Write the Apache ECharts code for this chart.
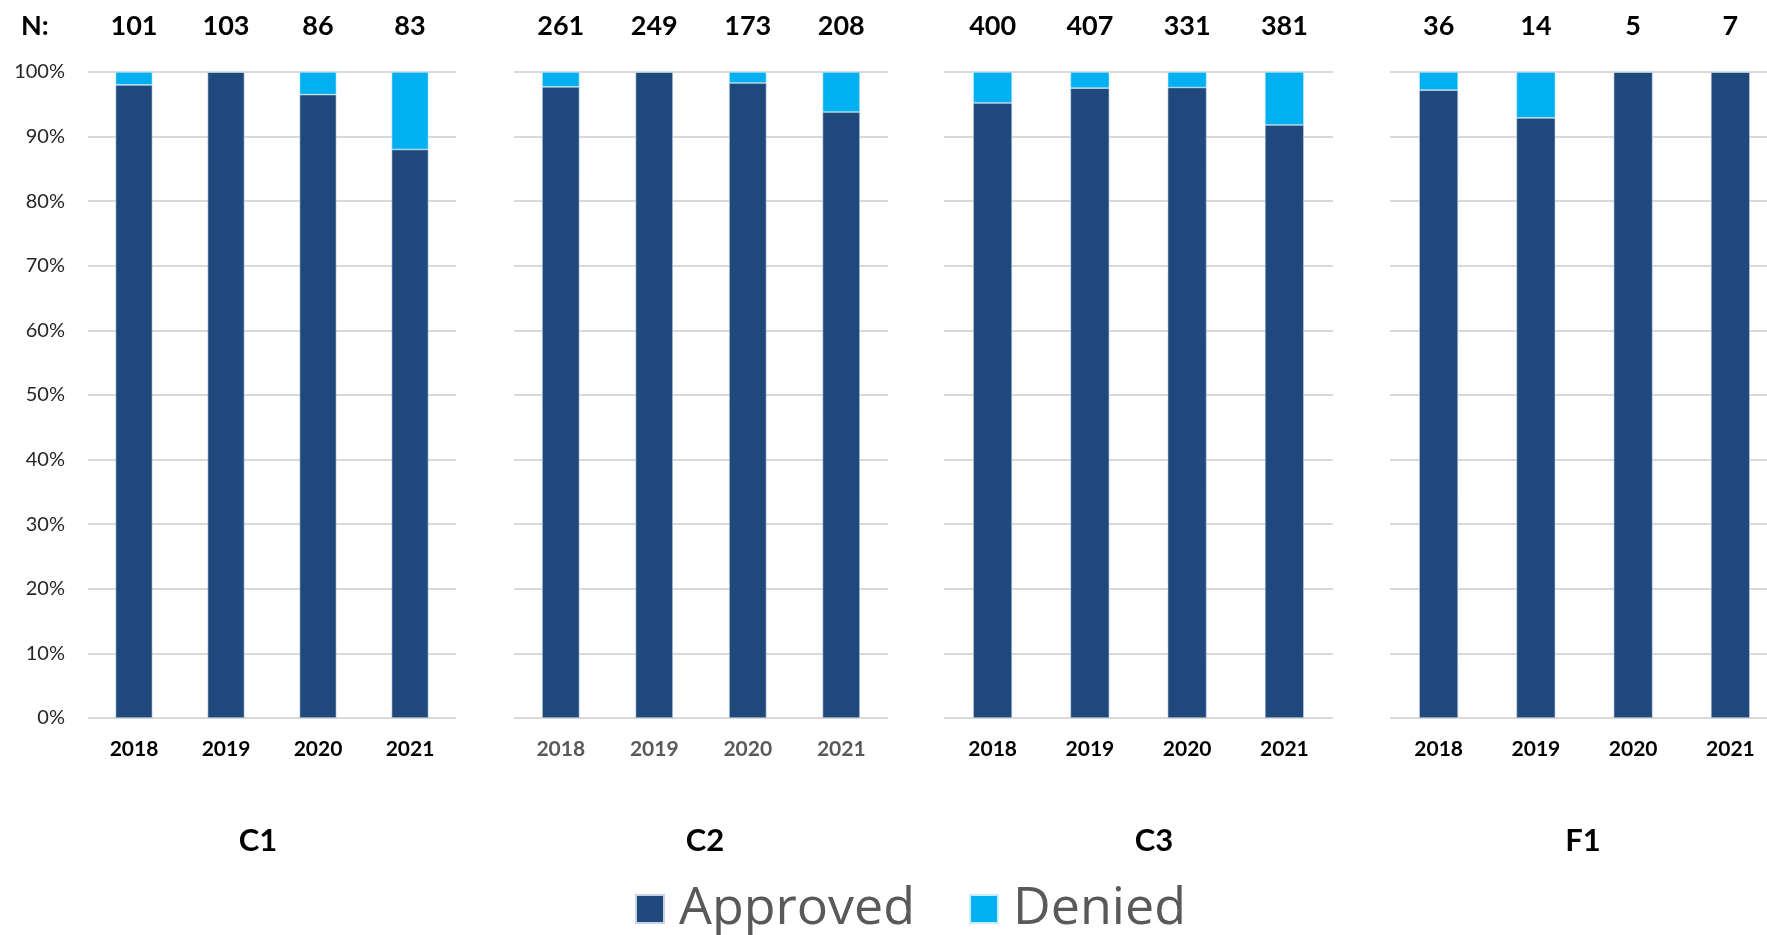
<!DOCTYPE html>
<html>
<head>
<meta charset="utf-8">
<script src="https://cdn.jsdelivr.net/npm/echarts@6/dist/echarts.min.js"></script>
<style>
  html, body { margin: 0; padding: 0; background: #fff; overflow: hidden; }
  /* the drawing surface is a little wider than the window so the last panel runs off the edge */
  #chart { width: 1790px; height: 935px; }
</style>
</head>
<body>
<div id="chart"></div>
<script>
// Share of approved / denied applications per program and year (percent)
const years = ['2018', '2019', '2020', '2021'];
const programs = ['C1', 'C2', 'C3', 'F1'];

// Number of applications per year, shown above each bar
const countsC1 = [101, 103, 86, 83];
const countsC2 = [261, 249, 173, 208];
const countsC3 = [400, 407, 331, 381];
const countsF1 = [36, 14, 5, 7];

const approvedC1 = [98.0, 100, 96.5, 88.0];
const deniedC1   = [2.0, 0, 3.5, 12.0];
const approvedC2 = [97.7, 100, 98.3, 93.8];
const deniedC2   = [2.3, 0, 1.7, 6.2];
const approvedC3 = [95.2, 97.5, 97.6, 91.8];
const deniedC3   = [4.8, 2.5, 2.4, 8.2];
const approvedF1 = [97.2, 92.9, 100, 100];
const deniedF1   = [2.8, 7.1, 0, 0];

const yTicks = [0, 10, 20, 30, 40, 50, 60, 70, 80, 90, 100];

const counts = [countsC1, countsC2, countsC3, countsF1];
const approved = [approvedC1, approvedC2, approvedC3, approvedF1];
const denied = [deniedC1, deniedC2, deniedC3, deniedF1];

const COLOR_APPROVED = '#1f497d';
const COLOR_DENIED = '#00b0f0';
const FONT = 'Lato, "Open Sans", sans-serif';

// Panel geometry (pixels)
const panels = [
  { left: 88,   width: 368, yearColor: '#000000' },
  { left: 514,  width: 374, yearColor: '#595959' },
  { left: 944,  width: 389, yearColor: '#000000' },
  { left: 1390, width: 389, yearColor: '#000000' }
];
const GRID_TOP = 72;
const GRID_HEIGHT = 646;

const grid = [], xAxis = [], yAxis = [], series = [];

panels.forEach((p, i) => {
  grid.push({ left: p.left, width: p.width, top: GRID_TOP, height: GRID_HEIGHT, containLabel: false });

  // bottom: years
  xAxis.push({
    type: 'category', gridIndex: i, data: years, position: 'bottom',
    axisLine: { show: false }, axisTick: { show: false },
    axisLabel: { color: p.yearColor, fontFamily: FONT, fontWeight: 'bold', fontSize: 21, lineHeight: 21, margin: 21 }
  });
  // top: number of applications
  xAxis.push({
    type: 'category', gridIndex: i, data: counts[i].map(String), position: 'top',
    axisLine: { show: false }, axisTick: { show: false },
    axisLabel: { color: '#000', fontFamily: FONT, fontWeight: 'bold', fontSize: 27, lineHeight: 27, margin: 32 }
  });

  yAxis.push({
    type: 'value', gridIndex: i, min: 0, max: 100, interval: 10,
    axisLine: { show: false }, axisTick: { show: false },
    splitLine: { show: true, lineStyle: { color: '#d9d9d9', width: 2 } },
    axisLabel: {
      show: i === 0, color: '#262626', fontFamily: FONT, fontSize: 20, margin: 23,
      formatter: v => (yTicks.includes(v) ? v + '%' : '')
    }
  });

  const common = {
    type: 'bar', xAxisIndex: i * 2, yAxisIndex: i, stack: 'p' + i,
    barWidth: '40%', animation: false
  };
  series.push(Object.assign({}, common, {
    name: 'Approved', data: approved[i],
    itemStyle: { color: COLOR_APPROVED, borderColor: '#c9d4e2', borderWidth: 0.6 }
  }));
  series.push(Object.assign({}, common, {
    name: 'Denied', data: denied[i],
    itemStyle: { color: COLOR_DENIED, borderColor: '#c9ecfa', borderWidth: 0.6 }
  }));
});

// Program names below each panel
const programCenters = [258, 705, 1154, 1583];
const graphic = programs.map((name, i) => ({
  type: 'text', x: programCenters[i], y: 841,
  style: { text: name, fill: '#000', font: 'bold 31px ' + FONT, textAlign: 'center', textVerticalAlign: 'middle' }
}));
graphic.push({
  type: 'text', x: 21, y: 26,
  style: { text: 'N:', fill: '#000', font: 'bold 27px ' + FONT, textVerticalAlign: 'middle' }
});

const chart = echarts.init(document.getElementById('chart'), null, { renderer: 'canvas' });
chart.setOption({
  backgroundColor: '#ffffff',
  animation: false,
  grid, xAxis, yAxis, series,
  graphic,
  legend: {
    data: ['Approved', 'Denied'],
    left: 630, top: 878,
    icon: 'rect', itemWidth: 28, itemHeight: 28, itemGap: 54,
    textStyle: { color: '#595959', fontFamily: '"Open Sans", sans-serif', fontSize: 52, padding: [0, 0, 0, 10] },
    selectedMode: false
  }
});
</script>
</body>
</html>
